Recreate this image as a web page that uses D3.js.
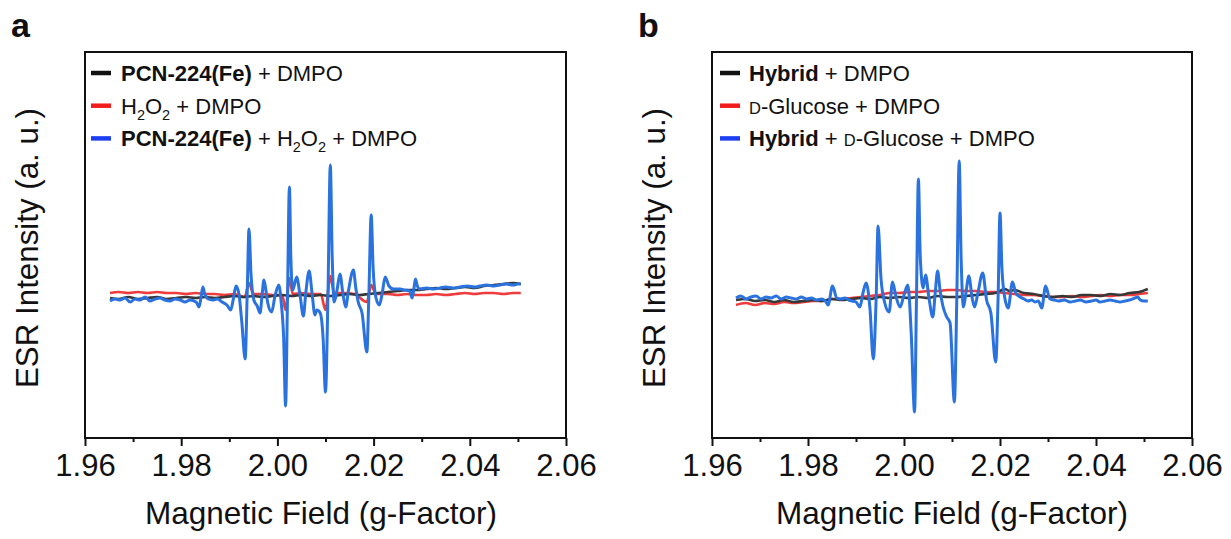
<!DOCTYPE html>
<html><head><meta charset="utf-8">
<script src="https://cdn.jsdelivr.net/npm/d3@7"></script>
<style>body{margin:0;background:#fff}</style>
</head><body>
<svg id="c" width="1231" height="539"></svg>
<script>
// ---------- DATA ----------
const majorTicks = [1.96, 1.98, 2.00, 2.02, 2.04, 2.06];
const minorTicks = [1.97, 1.99, 2.01, 2.03, 2.05];
const xTitle = "Magnetic Field (g-Factor)";
const yTitle = "ESR Intensity (a. u.)";

// Panel a: [g-factor, intensity (a.u.)]
const blackA = [[1.9652,0.0],[1.967,-0.1],[1.969,0.1],[1.971,-0.1],[1.973,0.0],[1.975,0.1],[1.977,-0.1],[1.979,0.0],[1.981,0.1],[1.983,0.0],[1.985,0.1],[1.987,0.0],[1.989,0.1],[1.991,0.2],[1.993,0.1],[1.995,0.2],[1.997,0.1],[1.999,0.2],[2.001,0.3],[2.003,0.2],[2.005,0.3],[2.007,0.2],[2.009,0.3],[2.011,0.2],[2.013,0.3],[2.015,0.4],[2.017,0.3],[2.019,0.4],[2.021,0.5],[2.023,0.6],[2.025,0.7],[2.027,0.8],[2.029,0.8],[2.031,0.9],[2.033,1.0],[2.035,0.9],[2.037,1.0],[2.039,1.1],[2.041,1.0],[2.043,1.2],[2.045,1.3],[2.047,1.4],[2.049,1.5],[2.0506,1.4]];
const redA = [[1.9652,0.5],[1.967,0.6],[1.969,0.5],[1.971,0.6],[1.973,0.5],[1.975,0.6],[1.977,0.5],[1.979,0.5],[1.981,0.4],[1.983,0.5],[1.985,0.4],[1.987,0.4],[1.989,0.3],[1.991,0.4],[1.9932,0.1],[1.9941,1.5],[1.995,0.4],[1.997,0.4],[1.999,0.3],[2.0010,0.3],[2.0017,-1.2],[2.0025,2.0],[2.0032,0.4],[2.005,0.5],[2.007,0.4],[2.009,0.4],[2.0100,-1.2],[2.0110,2.2],[2.0118,0.5],[2.014,0.5],[2.016,0.4],[2.0186,-0.4],[2.0195,1.3],[2.0205,0.4],[2.023,0.4],[2.025,0.3],[2.027,0.4],[2.029,0.3],[2.031,0.3],[2.033,0.4],[2.035,0.3],[2.037,0.4],[2.039,0.5],[2.041,0.4],[2.043,0.5],[2.045,0.5],[2.047,0.4],[2.049,0.5],[2.0506,0.5]];
const blueA = [[1.9652,-0.3],[1.9662,-0.1],[1.9673,-0.2],[1.9683,0.0],[1.9694,-0.4],[1.9704,-0.1],[1.9714,-0.2],[1.9725,0.1],[1.9735,-0.3],[1.9746,-0.1],[1.9756,0.0],[1.9766,-0.2],[1.9777,-0.3],[1.9787,-0.1],[1.9798,-0.2],[1.9808,-0.4],[1.9818,-0.2],[1.9831,-0.4],[1.9837,-0.9],[1.9841,0.0],[1.9845,1.1],[1.9849,0.4],[1.9856,-0.1],[1.9865,-0.2],[1.9875,-0.1],[1.9885,-0.4],[1.9895,-0.7],[1.9903,-1.2],[1.9908,-0.2],[1.9914,1.2],[1.9920,0.4],[1.9926,-2.4],[1.9933,-6.1],[1.9937,0.0],[1.9941,6.9],[1.9945,2.5],[1.9951,-0.2],[1.9958,-0.8],[1.9964,-1.5],[1.9968,0.2],[1.9972,1.8],[1.9976,0.8],[1.9980,-0.5],[1.9988,-1.4],[1.9995,0.2],[2.0003,1.3],[2.0008,-0.5],[2.0013,-4.0],[2.0017,-10.8],[2.0021,0.0],[2.0025,11.1],[2.0028,4.0],[2.0032,0.8],[2.0040,2.1],[2.0047,0.3],[2.0054,-1.8],[2.0059,0.5],[2.0066,2.7],[2.0072,0.5],[2.0078,-1.7],[2.0082,-1.2],[2.0089,-1.5],[2.0095,-4.0],[2.0100,-9.4],[2.0105,0.0],[2.0110,13.3],[2.0114,4.0],[2.0118,-0.4],[2.0124,0.8],[2.0130,2.4],[2.0136,0.5],[2.0142,-0.9],[2.0148,0.8],[2.0158,2.8],[2.0163,1.0],[2.0168,-0.4],[2.0176,-1.5],[2.0186,-5.4],[2.0190,0.0],[2.0195,8.3],[2.0199,3.0],[2.0205,0.0],[2.0212,-0.7],[2.0218,0.5],[2.0224,2.1],[2.0232,1.2],[2.0241,0.9],[2.0255,0.9],[2.0265,0.8],[2.0275,0.7],[2.0280,0.0],[2.0284,1.0],[2.0287,1.9],[2.0291,1.2],[2.0296,0.9],[2.0310,1.0],[2.0325,0.9],[2.0338,1.0],[2.0350,1.1],[2.0365,1.0],[2.0380,1.1],[2.0395,1.2],[2.0410,1.1],[2.0421,1.2],[2.0435,1.3],[2.0450,1.2],[2.0463,1.3],[2.0475,1.4],[2.0490,1.3],[2.0500,1.4],[2.0506,1.4]];

// Panel b
const blackB = [[1.9650,-0.2],[1.967,-0.1],[1.969,-0.3],[1.971,-0.2],[1.973,-0.4],[1.975,-0.2],[1.977,-0.4],[1.979,-0.3],[1.981,-0.2],[1.983,-0.3],[1.985,-0.1],[1.987,-0.2],[1.989,-0.1],[1.991,0.0],[1.993,-0.1],[1.995,0.1],[1.997,0.0],[1.999,0.1],[2.001,0.0],[2.003,0.1],[2.005,0.0],[2.007,0.2],[2.009,0.1],[2.011,0.1],[2.013,0.2],[2.015,0.3],[2.017,0.4],[2.019,0.5],[2.021,0.9],[2.022,0.7],[2.023,0.8],[2.025,0.5],[2.027,0.4],[2.029,0.2],[2.031,0.1],[2.033,0.2],[2.035,0.1],[2.037,0.3],[2.039,0.3],[2.041,0.2],[2.043,0.4],[2.045,0.3],[2.047,0.5],[2.049,0.6],[2.0508,0.9]];
const redB = [[1.9650,-0.7],[1.967,-0.5],[1.969,-0.7],[1.971,-0.5],[1.973,-0.6],[1.975,-0.4],[1.977,-0.5],[1.979,-0.4],[1.981,-0.3],[1.983,-0.3],[1.985,-0.1],[1.987,-0.1],[1.989,0.0],[1.991,0.1],[1.993,0.2],[1.995,0.3],[1.997,0.5],[1.999,0.5],[2.001,0.6],[2.003,0.6],[2.005,0.7],[2.007,0.7],[2.009,0.8],[2.011,0.8],[2.013,0.7],[2.015,0.7],[2.017,0.6],[2.019,0.6],[2.021,0.5],[2.023,0.4],[2.025,0.3],[2.027,0.3],[2.029,0.2],[2.031,0.1],[2.033,0.1],[2.035,0.2],[2.037,0.1],[2.039,0.2],[2.041,0.3],[2.043,0.2],[2.045,0.3],[2.047,0.3],[2.049,0.4],[2.0508,0.5]];
const blueB = [[1.9650,0.0],[1.9660,0.2],[1.9671,-0.1],[1.9681,0.1],[1.9692,0.2],[1.9702,-0.1],[1.9713,0.1],[1.9723,0.0],[1.9734,0.2],[1.9744,-0.1],[1.9755,0.1],[1.9765,0.0],[1.9776,-0.1],[1.9786,0.1],[1.9797,-0.1],[1.9807,0.0],[1.9818,-0.2],[1.9828,-0.1],[1.9836,-0.3],[1.9842,-0.7],[1.9851,1.2],[1.9860,0.0],[1.9868,-0.1],[1.9877,0.0],[1.9885,-0.2],[1.9892,-0.3],[1.9900,-0.4],[1.9908,-0.9],[1.9915,0.6],[1.9921,1.5],[1.9929,-1.0],[1.9936,-6.1],[1.9942,0.0],[1.9946,7.2],[1.9952,2.0],[1.9960,-0.5],[1.9969,-1.4],[1.9976,1.6],[1.9983,0.2],[1.9992,-0.9],[2.0000,0.3],[2.0008,1.3],[2.0015,-3.5],[2.0022,-11.4],[2.0026,0.0],[2.0030,11.9],[2.0034,4.0],[2.0040,1.0],[2.0045,2.3],[2.0052,0.0],[2.0060,-1.9],[2.0065,0.5],[2.0070,2.7],[2.0075,0.8],[2.0081,-0.8],[2.0089,-1.9],[2.0096,-2.5],[2.0105,-10.4],[2.0110,0.0],[2.0115,13.7],[2.0119,4.0],[2.0124,-0.9],[2.0129,0.5],[2.0135,2.2],[2.0142,0.0],[2.0147,-0.9],[2.0154,0.5],[2.0164,2.5],[2.0172,-0.2],[2.0181,-1.5],[2.0191,-6.4],[2.0196,0.0],[2.0200,8.5],[2.0204,3.0],[2.0210,0.0],[2.0217,-1.0],[2.0226,1.6],[2.0233,0.5],[2.0242,0.1],[2.0250,-0.1],[2.0258,-0.3],[2.0266,-0.2],[2.0273,-0.4],[2.0280,-0.3],[2.0287,-1.0],[2.0295,1.2],[2.0304,-0.1],[2.0313,-0.2],[2.0322,-0.3],[2.0334,-0.2],[2.0346,-0.4],[2.0357,-0.3],[2.0367,-0.2],[2.0379,-0.4],[2.0391,-0.3],[2.0400,-0.2],[2.0408,-0.4],[2.0419,-0.3],[2.0429,-0.2],[2.0440,-0.3],[2.0450,-0.4],[2.0460,-0.3],[2.0470,-0.2],[2.0481,0.0],[2.0487,0.1],[2.0492,-0.2],[2.0500,-0.3],[2.0508,-0.3]];

// Legend labels (text parts: b = bold, sub = subscript, sc = small capital)
const legendA = [
  [{t:"PCN-224(Fe)", b:1},{t:" + DMPO"}],
  [{t:"H"},{t:"2",sub:1},{t:"O"},{t:"2",sub:1},{t:" + DMPO"}],
  [{t:"PCN-224(Fe)", b:1},{t:" + H"},{t:"2",sub:1},{t:"O"},{t:"2",sub:1},{t:" + DMPO"}]
];
const legendB = [
  [{t:"Hybrid", b:1},{t:" + DMPO"}],
  [{t:"D",sc:1},{t:"-Glucose + DMPO"}],
  [{t:"Hybrid", b:1},{t:" + "},{t:"D",sc:1},{t:"-Glucose + DMPO"}]
];
const panelLetters = ["a", "b"];

// ---------- STYLE ----------
const FONT = "'Liberation Sans', Arial, Helvetica, sans-serif";
const traceColors = ["#383838", "#ee3b3b", "#2a72de"];
const swatchColors = ["#111111", "#f21c1c", "#1e3ff0"];
const svg = d3.select("#c");

function drawPanel(p) {
  const x = d3.scaleLinear().domain([1.96, 2.06]).range([p.x0, p.x1]);
  const y = d3.scaleLinear().domain([-14, 24.6]).range([438, 52]);
  const line = d3.line().x(d => x(d[0])).y(d => y(d[1])).curve(d3.curveMonotoneX);
  const g = svg.append("g");

  // traces: red, black, blue
  const order = [1, 0, 2];
  const widths = [2.6, 2.7, 3.0];
  order.forEach(k => {
    g.append("path").datum(p.series[k]).attr("d", line)
      .attr("fill", "none").attr("stroke", traceColors[k])
      .attr("stroke-width", widths[k]).attr("stroke-linejoin", "round");
  });

  // frame
  g.append("rect").attr("x", p.x0).attr("y", 52)
    .attr("width", p.x1 - p.x0).attr("height", 438 - 52)
    .attr("fill", "none").attr("stroke", "#111").attr("stroke-width", 2);

  // major axis
  const ax = g.append("g").attr("transform", "translate(0,438)")
    .call(d3.axisBottom(x).tickValues(majorTicks).tickSize(8).tickPadding(8).tickFormat(d3.format(".2f")));
  ax.select(".domain").remove();
  ax.selectAll("line").attr("stroke", "#111").attr("stroke-width", 2);
  ax.selectAll("text").attr("font-family", FONT).attr("font-size", 31).attr("fill", "#111");
  const mx = g.append("g").attr("transform", "translate(0,438)")
    .call(d3.axisBottom(x).tickValues(minorTicks).tickSize(4).tickFormat(""));
  mx.select(".domain").remove();
  mx.selectAll("line").attr("stroke", "#111").attr("stroke-width", 2);

  // axis titles
  g.append("text").attr("x", p.xTitleX).attr("y", 524).attr("text-anchor", "middle")
    .attr("font-family", FONT).attr("font-size", 31.5).attr("fill", "#111").text(xTitle);
  g.append("text").attr("transform", `translate(${p.yTitleX},248) rotate(-90)`)
    .attr("text-anchor", "middle").attr("font-family", FONT).attr("font-size", 31.3)
    .attr("fill", "#111").text(yTitle);

  // panel letter
  g.append("text").attr("x", p.letterX).attr("y", 37).attr("font-family", FONT)
    .attr("font-size", 34).attr("font-weight", "bold").attr("fill", "#111").text(p.letter);

  // legend
  p.legend.forEach((parts, i) => {
    const by = 81 + i * 32.7;
    g.append("line").attr("x1", p.swX0).attr("x2", p.swX0 + 20)
      .attr("y1", by - 8).attr("y2", by - 8)
      .attr("stroke", swatchColors[i]).attr("stroke-width", 4.5);
    const t = g.append("text").attr("x", p.txtX).attr("y", by)
      .attr("font-family", FONT).attr("font-size", 22).attr("fill", "#111");
    let shifted = 0;
    parts.forEach(pt => {
      const s = t.append("tspan").text(pt.t);
      if (pt.b) s.attr("font-weight", "bold");
      if (pt.sub) { s.attr("font-size", 14.5).attr("dy", 6 - shifted); shifted = 6; }
      else { if (shifted) { s.attr("dy", -shifted); shifted = 0; } }
      if (pt.sc) s.attr("font-size", 16.5);
    });
  });
}

drawPanel({x0: 85, x1: 566, series: [blackA, redA, blueA], legend: legendA,
  letter: panelLetters[0], letterX: 11, xTitleX: 321, yTitleX: 38, swX0: 91, txtX: 121});
drawPanel({x0: 712, x1: 1192, series: [blackB, redB, blueB], legend: legendB,
  letter: panelLetters[1], letterX: 638, xTitleX: 952, yTitleX: 665, swX0: 720, txtX: 749});
</script>
</body></html>
